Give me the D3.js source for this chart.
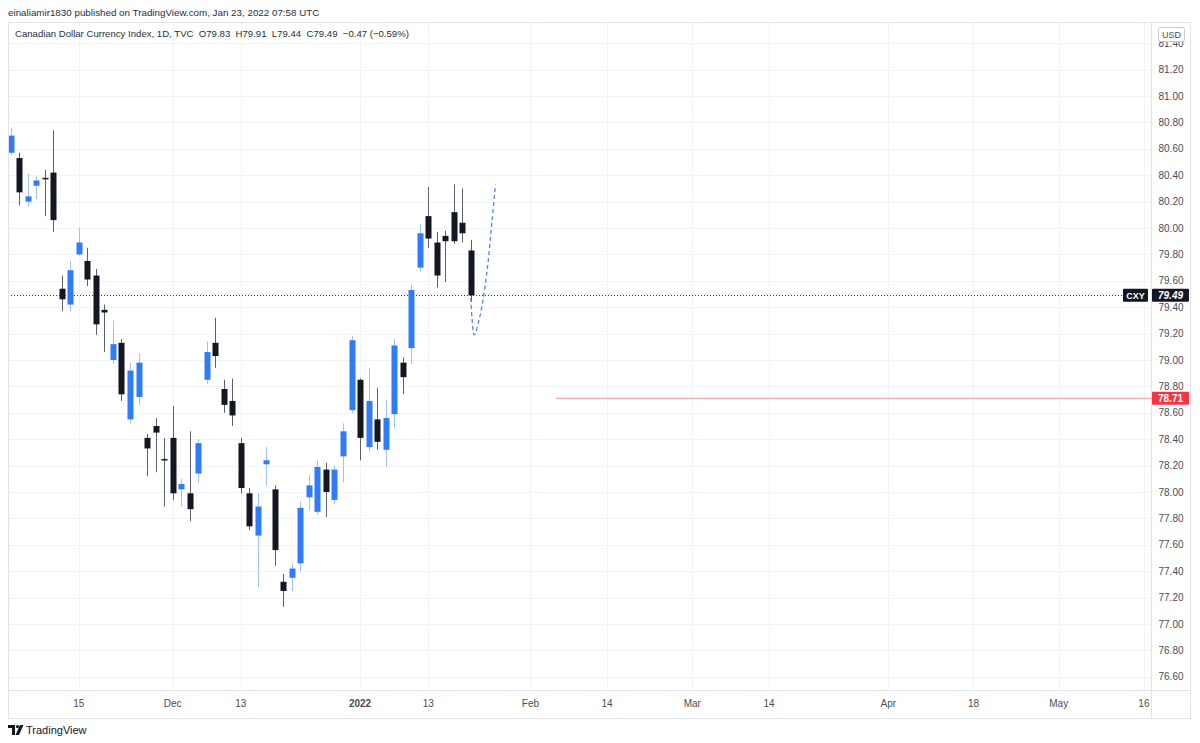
<!DOCTYPE html>
<html><head><meta charset="utf-8">
<script src="https://cdn.jsdelivr.net/npm/d3@7"></script>
<style>html,body{margin:0;padding:0;background:#fff;}svg{display:block;font-family:"Liberation Sans","DejaVu Sans",sans-serif;}</style>
</head><body><svg id="c" width="1200" height="743"></svg>
<script>
// ---- data ----
const dates = ["2021-11-03","2021-11-04","2021-11-05","2021-11-08","2021-11-09","2021-11-10","2021-11-11","2021-11-12","2021-11-15","2021-11-16","2021-11-17","2021-11-18","2021-11-19","2021-11-22","2021-11-23","2021-11-24","2021-11-26","2021-11-29","2021-11-30","2021-12-01","2021-12-02","2021-12-03","2021-12-06","2021-12-07","2021-12-08","2021-12-09","2021-12-10","2021-12-13","2021-12-14","2021-12-15","2021-12-16","2021-12-17","2021-12-20","2021-12-21","2021-12-22","2021-12-23","2021-12-27","2021-12-28","2021-12-29","2021-12-30","2021-12-31","2022-01-03","2022-01-04","2022-01-05","2022-01-06","2022-01-07","2022-01-10","2022-01-11","2022-01-12","2022-01-13","2022-01-14","2022-01-18","2022-01-19","2022-01-20","2022-01-21"];
const open  = [80.57,80.53,80.20,80.32,80.38,80.42,79.54,79.42,79.80,79.75,79.64,79.38,79.00,79.13,78.55,78.72,78.41,78.50,78.25,78.41,78.02,77.99,78.14,78.85,79.13,78.78,78.69,78.37,77.99,77.67,78.21,78.02,77.32,77.35,77.46,77.96,77.85,78.17,77.94,78.27,78.62,78.85,78.34,78.55,78.32,78.59,78.98,79.09,79.70,80.09,79.89,79.94,80.12,80.04,79.83];
const high  = [80.76,80.57,80.41,80.39,80.44,80.74,79.64,79.75,80.00,79.85,79.69,79.42,79.30,79.16,78.98,79.05,78.44,78.56,78.41,78.65,78.10,78.46,78.40,79.14,79.32,78.85,78.86,78.41,78.03,77.99,78.34,78.05,77.38,77.46,77.93,78.13,78.24,78.22,78.20,78.52,79.18,78.86,78.94,78.79,78.70,79.16,79.02,79.57,80.03,80.31,79.97,79.98,80.33,80.30,79.91];
const low   = [80.55,80.17,80.16,80.22,80.09,79.97,79.37,79.37,79.79,79.56,79.19,79.06,78.97,78.69,78.52,78.66,78.12,78.15,77.89,77.94,77.89,77.78,78.07,78.82,78.94,78.60,78.50,77.99,77.71,77.28,78.05,77.44,77.13,77.25,77.40,77.86,77.83,77.81,77.91,78.07,78.60,78.24,78.30,78.32,78.19,78.48,78.74,78.97,79.67,79.85,79.55,79.59,79.88,79.89,79.44];
const close = [80.70,80.27,80.24,80.36,80.37,80.06,79.46,79.68,79.89,79.61,79.27,79.36,79.12,78.74,78.92,78.98,78.33,78.45,78.24,77.99,78.06,77.87,78.37,79.06,79.03,78.66,78.58,78.03,77.74,77.89,78.24,77.56,77.25,77.42,77.88,78.05,78.19,78.00,78.17,78.46,79.15,78.41,78.69,78.38,78.56,79.11,78.87,79.53,79.96,79.92,79.64,79.90,79.90,79.96,79.49];
const holidays = ["2021-11-25","2021-12-24","2022-01-17","2022-02-21","2022-04-15"];
const timeTickDates  = ["2021-11-15","2021-12-01","2021-12-13","2022-01-03","2022-01-13","2022-02-01","2022-02-14","2022-03-01","2022-03-14","2022-04-01","2022-04-18","2022-05-02","2022-05-16"];
const timeTickLabels = ["15","Dec","13","2022","13","Feb","14","Mar","14","Apr","18","May","16"];
const priceTicks = [76.6,76.8,77.0,77.2,77.4,77.6,77.8,78.0,78.2,78.4,78.6,78.8,79.0,79.2,79.4,79.6,79.8,80.0,80.2,80.4,80.6,80.8,81.0,81.2,81.4];
const lastPrice = 79.49;
const alertPrice = 78.71;
const alertStart = "2022-02-04";
const sketchIdx   = [54, 54.15, 54.4, 55.1, 55.9, 56.5, 56.9];
const sketchPrice = [79.47, 79.31, 79.19, 79.34, 79.67, 80.06, 80.33];

// ---- trading calendar (weekdays minus holidays) ----
const calendar = [];
{
  const d = new Date(Date.UTC(2021,10,3));
  const end = new Date(Date.UTC(2022,5,30));
  while (d <= end) {
    const s = d.toISOString().slice(0,10);
    const wd = d.getUTCDay();
    if (wd !== 0 && wd !== 6 && !holidays.includes(s)) calendar.push(s);
    d.setUTCDate(d.getUTCDate()+1);
  }
}
const idx = s => calendar.indexOf(s);

// ---- layout ----
const L = 8, R = 1151, T = 22, B = 690, AXR = 1191, TB = 718;
const svg = d3.select("#c");
svg.append("rect").attr("width",1200).attr("height",743).attr("fill","#fff");

const x = d3.scaleLinear().domain([0,133]).range([10.7,1143.9]);
const y = d3.scaleLinear().domain([80,79]).range([228,360]);

// grid
const grid = svg.append("g");
grid.selectAll("line.h").data(priceTicks).join("line")
  .attr("x1",L).attr("x2",R).attr("y1",d=>Math.round(y(d))+0.5).attr("y2",d=>Math.round(y(d))+0.5)
  .attr("stroke","#f0f3fa").attr("stroke-width",1);
grid.selectAll("line.v").data(timeTickDates).join("line")
  .attr("y1",T).attr("y2",B).attr("x1",d=>Math.round(x(idx(d)))+0.5).attr("x2",d=>Math.round(x(idx(d)))+0.5)
  .attr("stroke","#f0f3fa").attr("stroke-width",1);

// frame
svg.append("rect").attr("x",L+0.5).attr("y",T+0.5).attr("width",AXR-L-1).attr("height",TB-T)
  .attr("fill","none").attr("stroke","#e0e3eb");
svg.append("line").attr("x1",R+0.5).attr("x2",R+0.5).attr("y1",T).attr("y2",TB).attr("stroke","#e0e3eb");
svg.append("line").attr("x1",L).attr("x2",AXR).attr("y1",B+0.5).attr("y2",B+0.5).attr("stroke","#e0e3eb");

// clip
svg.append("clipPath").attr("id","plot").append("rect").attr("x",L+1).attr("y",T+1).attr("width",R-L-1).attr("height",B-T-1);
const plot = svg.append("g").attr("clip-path","url(#plot)");

// alert line
plot.append("line").attr("x1",x(idx(alertStart))).attr("x2",R).attr("y1",y(alertPrice)).attr("y2",y(alertPrice))
  .attr("stroke","#f7a9ae").attr("stroke-width",1.2);

// last price dotted line
plot.append("line").attr("x1",L).attr("x2",1123).attr("y1",Math.round(y(lastPrice))+0.5).attr("y2",Math.round(y(lastPrice))+0.5)
  .attr("stroke","#3a3d47").attr("stroke-dasharray","1,2").attr("stroke-width",1);

// candles
const candles = dates.map((d,i)=>({i:idx(d),o:open[i],h:high[i],l:low[i],c:close[i]}));
const up = d=>d.c>=d.o;
const bw = 6;
const cg = plot.append("g");
cg.selectAll("line").data(candles).join("line")
  .attr("x1",d=>Math.round(x(d.i))+0.5).attr("x2",d=>Math.round(x(d.i))+0.5)
  .attr("y1",d=>y(d.h)).attr("y2",d=>y(d.l))
  .attr("stroke",d=>up(d)?"#9fc0f8":"#5d606b").attr("stroke-width",1);
cg.selectAll("rect").data(candles).join("rect")
  .attr("x",d=>Math.round(x(d.i))+0.5-bw/2).attr("width",bw)
  .attr("y",d=>y(Math.max(d.o,d.c))).attr("height",d=>Math.max(1.5,Math.abs(y(d.o)-y(d.c))))
  .attr("fill",d=>up(d)?"#2f7cf6":"#131722");

// sketch dashed curve
const sk = sketchIdx.map((v,i)=>[x(v),y(sketchPrice[i])]);
plot.append("path").attr("d",d3.line().curve(d3.curveCatmullRom)(sk))
  .attr("fill","none").attr("stroke","#5a82ec").attr("stroke-width",1.3).attr("stroke-dasharray","4,3");

// price axis labels
const pa = svg.append("g");
pa.selectAll("text").data(priceTicks).join("text")
  .attr("x",1171).attr("y",d=>y(d)+3.5).attr("text-anchor","middle")
  .attr("font-size",10).attr("fill","#4a4d57").text(d=>d.toFixed(2));

// USD box
svg.append("rect").attr("x",1158.5).attr("y",27.5).attr("width",26).attr("height",14).attr("rx",2)
  .attr("fill","#fff").attr("stroke","#c8cbd3");
svg.append("text").attr("x",1171.5).attr("y",38).attr("text-anchor","middle").attr("font-size",9).attr("fill","#4a4d57").text("USD");

// last price labels
const ly = y(lastPrice);
svg.append("rect").attr("x",1123).attr("y",ly-6.5).attr("width",25).attr("height",13).attr("rx",1).attr("fill","#131722");
svg.append("text").attr("x",1135.5).attr("y",ly+3.5).attr("text-anchor","middle").attr("font-size",9).attr("font-weight","bold").attr("fill","#fff").text("CXY");
svg.append("rect").attr("x",1152).attr("y",ly-6.5).attr("width",37).attr("height",13).attr("rx",1).attr("fill","#131722");
svg.append("text").attr("x",1170.5).attr("y",ly+3.5).attr("text-anchor","middle").attr("font-size",10).attr("font-weight","bold").attr("font-style","italic").attr("fill","#fff").text(lastPrice.toFixed(2));

// alert label
const ay = y(alertPrice);
svg.append("rect").attr("x",1152).attr("y",ay-6.5).attr("width",37).attr("height",13).attr("rx",1).attr("fill","#f23645");
svg.append("text").attr("x",1170.5).attr("y",ay+3.5).attr("text-anchor","middle").attr("font-size",10).attr("font-weight","bold").attr("fill","#fff").text(alertPrice.toFixed(2));

// time axis labels
svg.append("g").selectAll("text").data(timeTickDates).join("text")
  .attr("x",d=>x(idx(d))).attr("y",707).attr("text-anchor","middle").attr("font-size",10)
  .attr("font-weight",(d,i)=>timeTickLabels[i]==="2022"?"bold":"normal")
  .attr("fill","#4a4d57").text((d,i)=>timeTickLabels[i]);

// header
svg.append("text").attr("x",8).attr("y",16).attr("font-size",9.8).attr("fill","#2a2e39")
  .text("einaliamir1830 published on TradingView.com, Jan 23, 2022 07:58 UTC");
svg.append("text").attr("x",15).attr("y",37).attr("font-size",9.6).attr("fill","#2a2e39")
  .attr("xml:space","preserve")
  .text("Canadian Dollar Currency Index, 1D, TVC  O79.83  H79.91  L79.44  C79.49  −0.47 (−0.59%)");

// logo
const lg = svg.append("g").attr("transform","translate(8,725)").attr("fill","#131722");
lg.append("path").attr("d","M0 0 H7 V10 H4 V3 H0 Z");
lg.append("circle").attr("cx",9.5).attr("cy",1.6).attr("r",1.6);
lg.append("path").attr("d","M12 0 H15.5 L11 10 H7.5 Z");
svg.append("text").attr("x",26).attr("y",734).attr("font-size",11).attr("fill","#131722").text("TradingView");
</script></body></html>
